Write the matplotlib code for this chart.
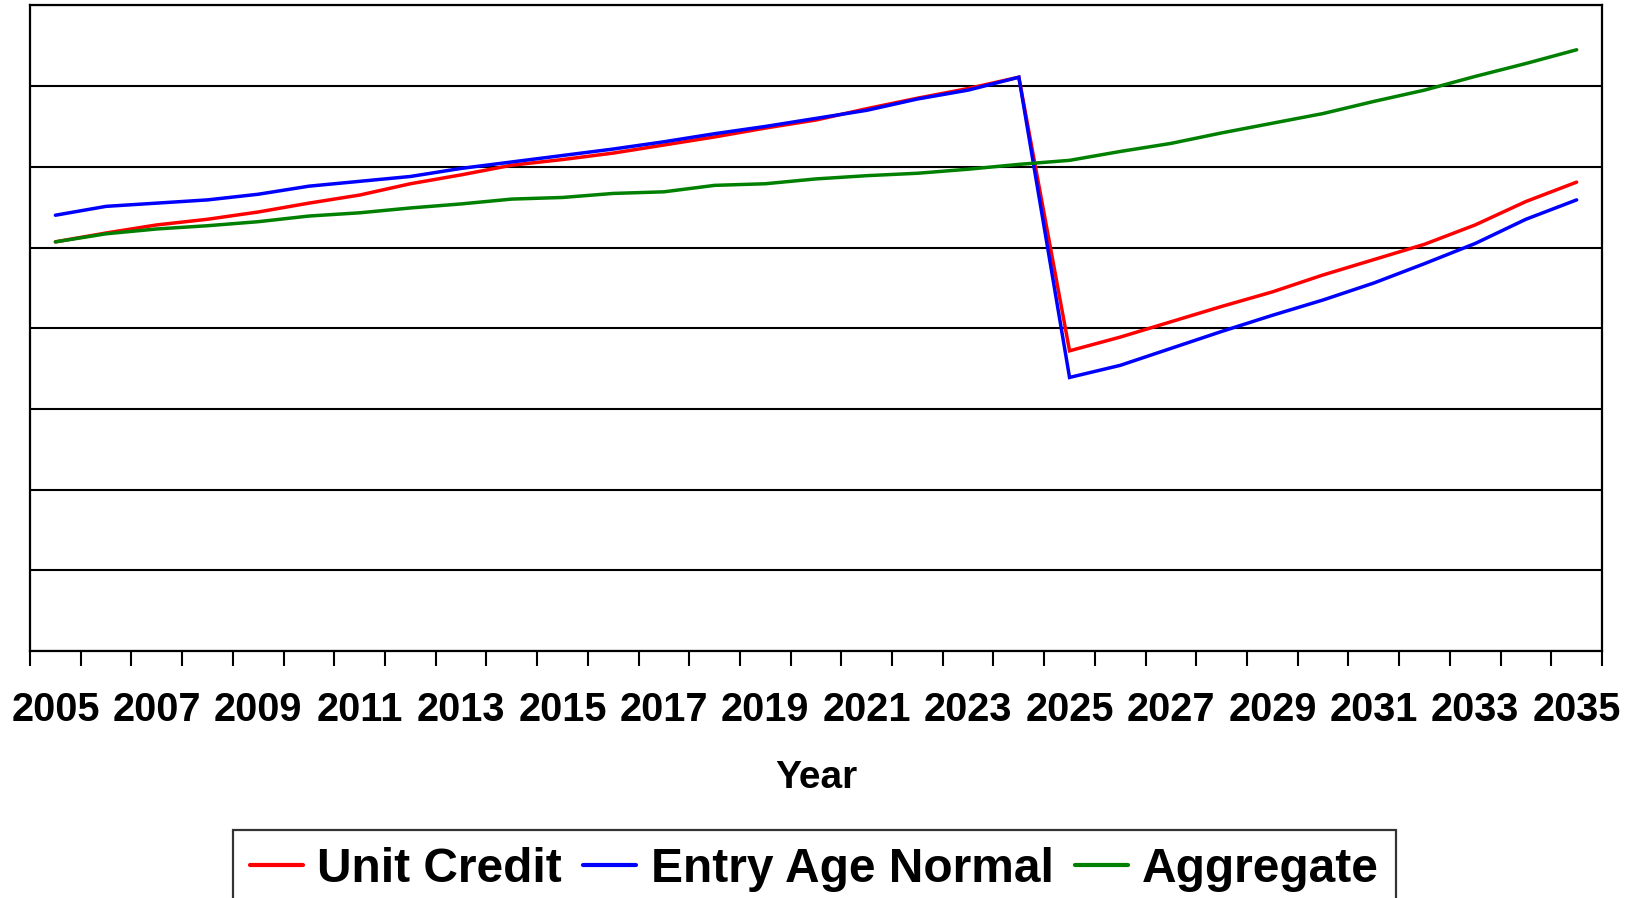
import matplotlib
matplotlib.use("Agg")
import matplotlib.pyplot as plt
import numpy as np

plt.rcParams["font.family"] = ["Liberation Sans", "DejaVu Sans"]
plt.rcParams["font.weight"] = "bold"

YEARS = list(range(2005, 2036))

UNIT_CREDIT = [5.07, 5.18, 5.28, 5.35, 5.44, 5.55, 5.65, 5.79, 5.90, 6.02,
               6.09, 6.17, 6.27, 6.37, 6.48, 6.58, 6.72, 6.85, 6.97, 7.11,
               3.72, 3.89, 4.08, 4.27, 4.45, 4.66, 4.85, 5.04, 5.28, 5.57, 5.81]
ENTRY_AGE_NORMAL = [5.40, 5.51, 5.55, 5.59, 5.66, 5.76, 5.82, 5.88, 5.98, 6.06,
                    6.14, 6.22, 6.31, 6.41, 6.50, 6.60, 6.70, 6.84, 6.95, 7.11,
                    3.39, 3.54, 3.75, 3.96, 4.16, 4.35, 4.56, 4.80, 5.05, 5.35, 5.59]
AGGREGATE = [5.07, 5.17, 5.23, 5.27, 5.32, 5.39, 5.43, 5.49, 5.54, 5.60,
             5.62, 5.67, 5.69, 5.77, 5.79, 5.85, 5.89, 5.92, 5.97, 6.03,
             6.08, 6.19, 6.29, 6.42, 6.54, 6.66, 6.81, 6.95, 7.12, 7.28, 7.45]

SERIES = [
    ("Unit Credit", UNIT_CREDIT, "#FF0000"),
    ("Entry Age Normal", ENTRY_AGE_NORMAL, "#0000FF"),
    ("Aggregate", AGGREGATE, "#008000"),
]


def main():
    fig = plt.figure(figsize=(16.33, 8.98), dpi=100)
    ax = fig.add_axes([0.0184, 0.275, 0.9626, 0.719])

    x = np.arange(len(YEARS))
    for label, values, color in SERIES:
        ax.plot(x, values, color=color, linewidth=2.5, label=label,
                solid_joinstyle="miter", solid_capstyle="round")

    ax.set_xlim(-0.5, len(YEARS) - 0.5)
    ax.set_ylim(0, 8)

    # category boundaries get the tick marks, labels sit at the centres
    ax.set_xticks(np.arange(len(YEARS) + 1) - 0.5)
    ax.set_xticklabels([])
    ax.set_xticks(x[::2], minor=True)
    ax.set_xticklabels([str(y) for y in YEARS[::2]], minor=True,
                       fontsize=28.5, fontweight="bold")
    ax.tick_params(axis="x", which="major", direction="out", length=11,
                   width=1.5, color="black")
    ax.tick_params(axis="x", which="minor", length=0, pad=29)

    ax.set_yticks(np.arange(0, 9, 1))
    ax.set_yticklabels([])
    ax.tick_params(axis="y", length=0)
    ax.grid(True, axis="y", color="black", linewidth=1.5)
    ax.set_axisbelow(True)

    for spine in ax.spines.values():
        spine.set_linewidth(1.6)
        spine.set_color("black")

    ax.set_xlabel("Year", fontsize=28, fontweight="bold", labelpad=22)

    leg = fig.legend(loc="upper center", bbox_to_anchor=(0.4988, 0.076),
                     ncol=3, frameon=True, fancybox=False, shadow=False,
                     prop={"size": 34.5, "weight": "bold"},
                     handlelength=1.1, handletextpad=0.3, columnspacing=0.45,
                     borderpad=0.35, borderaxespad=0)
    leg.get_frame().set_edgecolor("black")
    leg.get_frame().set_linewidth(1.6)
    for line in leg.get_lines():
        line.set_linewidth(3)

    fig.savefig("out.png", dpi=100)


if __name__ == "__main__":
    main()
